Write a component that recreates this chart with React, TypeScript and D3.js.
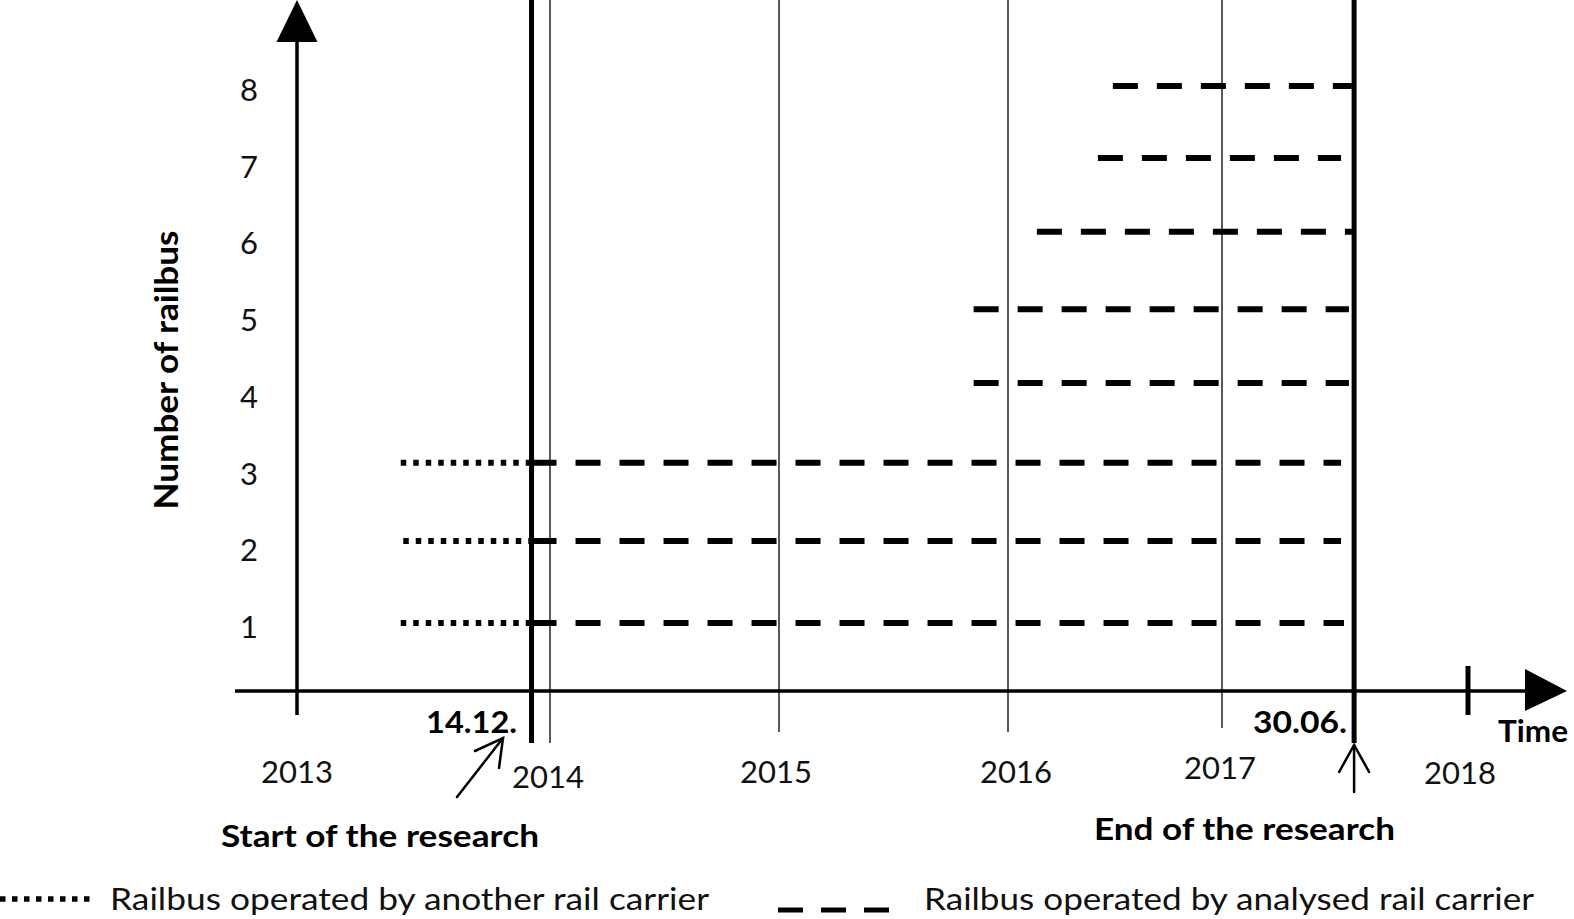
import React from "react";
import * as d3 from "d3";

// ---- data ----
const years = [2013, 2014, 2015, 2016, 2017, 2018];
const yearLabels = ["2013", "2014", "2015", "2016", "2017", "2018"];
const railbusNumbers = [1, 2, 3, 4, 5, 6, 7, 8];
// drawn level of each railbus line (in railbus units)
const railbusLevels = [1.0, 2.07, 3.09, 4.13, 5.09, 6.1, 7.06, 8.0];
// operated by another carrier (rows 1-3)
const otherStart = [2013.41, 2013.42, 2013.41];
// operated by analysed carrier
const analysedStart = [2013.927, 2013.927, 2013.927, 2015.85, 2015.85, 2016.135, 2016.42, 2016.49];
const analysedEnd = [2017.496, 2017.484, 2017.484, 2017.516, 2017.516, 2017.528, 2017.484, 2017.528];
const researchStart = 2013.927;
const researchEnd = 2017.537;
const researchStartLabel = "14.12.";
const researchEndLabel = "30.06.";

export default function App() {
  const W = 1574;
  const H = 919;
  const font = "Lato, 'Open Sans', sans-serif";

  // layout
  const yearX = [297, 550, 779, 1008, 1222, 1468];
  const x = d3.scaleLinear().domain(years).range(yearX);
  const y = d3.scaleLinear().domain([1, 8]).range([623, 86]);
  const axisY = 691;
  const yearLineBottom = [715, 743, 732, 732, 728, 715];
  const labelDx = [0, -2, -3, 8, -2, -8];
  const labelDy = [0, 5, 0, 0, -4, 1];

  const dashed = "25 19";
  const dotted = "5.5 7";

  return (
    <svg
      width={W}
      height={H}
      viewBox={`0 0 ${W} ${H}`}
      style={{ position: "absolute", left: 0, top: 0, background: "#fff" }}
    >
      <rect x={0} y={0} width={W} height={H} fill="#fff" />
      {/* thin year lines */}
      {years.slice(1, 5).map((yr, i) => (
        <line
          key={yr}
          x1={x(yr)}
          x2={x(yr)}
          y1={0}
          y2={yearLineBottom[i + 1]}
          stroke="#222"
          strokeWidth={1.5}
        />
      ))}
      {/* 2018 tick */}
      <line x1={x(2018)} x2={x(2018)} y1={666} y2={715} stroke="#000" strokeWidth={5} />

      {/* research boundaries */}
      {[researchStart, researchEnd].map((v) => (
        <line key={v} x1={x(v)} x2={x(v)} y1={0} y2={743} stroke="#000" strokeWidth={5} />
      ))}

      {/* axes */}
      <line x1={235} x2={1527} y1={axisY} y2={axisY} stroke="#000" strokeWidth={3.5} />
      <polygon points={`1525,669 1567,${axisY} 1525,711`} fill="#000" />
      <line x1={x(2013)} x2={x(2013)} y1={38} y2={715} stroke="#000" strokeWidth={3.5} />
      <polygon points={`${x(2013)},0 ${x(2013) - 20.5},42 ${x(2013) + 20.5},42`} fill="#000" />

      {/* railbus lines: other carrier */}
      {otherStart.map((s, i) => (
        <line
          key={"o" + i}
          x1={x(s)}
          x2={x(researchStart)}
          y1={y(railbusLevels[i])}
          y2={y(railbusLevels[i])}
          stroke="#000"
          strokeWidth={6}
          strokeDasharray={dotted}
        />
      ))}
      {/* railbus lines: analysed carrier */}
      {analysedStart.map((s, i) => (
        <line
          key={"a" + i}
          x1={x(s)}
          x2={x(analysedEnd[i])}
          y1={y(railbusLevels[i])}
          y2={y(railbusLevels[i])}
          stroke="#000"
          strokeWidth={6}
          strokeDasharray={dashed}
        />
      ))}

      {/* y tick labels */}
      {railbusNumbers.map((n) => (
        <text
          key={n}
          x={249}
          y={y(n) + 15}
          textAnchor="middle"
          fontFamily={font}
          fontSize={31}
          fill="#111"
        >
          {n}
        </text>
      ))}

      {/* year labels */}
      {years.map((yr, i) => (
        <text
          key={yr}
          x={x(yr) + labelDx[i]}
          y={783 + labelDy[i]}
          textAnchor="middle"
          fontFamily={font}
          fontSize={31}
          fill="#111"
        >
          {yearLabels[i]}
        </text>
      ))}

      {/* axis titles */}
      <text
        transform={`translate(178,370) rotate(-90)`}
        textAnchor="middle"
        fontFamily={font}
        fontSize={32}
        fontWeight="bold"
        fill="#000"
        textLength={279}
        lengthAdjust="spacingAndGlyphs"
      >
        Number of railbus
      </text>
      <text x={1498} y={742} fontFamily={font} fontSize={30} fontWeight="bold" textLength={70} lengthAdjust="spacingAndGlyphs">
        Time
      </text>

      {/* research labels */}
      <text x={517} y={733} textAnchor="end" fontFamily={font} fontSize={30} fontWeight="bold" textLength={91} lengthAdjust="spacingAndGlyphs">
        {researchStartLabel}
      </text>
      <text x={1347} y={733} textAnchor="end" fontFamily={font} fontSize={30} fontWeight="bold" textLength={94} lengthAdjust="spacingAndGlyphs">
        {researchEndLabel}
      </text>
      <text x={221} y={847} fontFamily={font} fontSize={30} fontWeight="bold" textLength={318} lengthAdjust="spacingAndGlyphs">
        Start of the research
      </text>
      <text x={1094} y={840} fontFamily={font} fontSize={30} fontWeight="bold" textLength={301} lengthAdjust="spacingAndGlyphs">
        End of the research
      </text>

      {/* arrows */}
      <g stroke="#000" strokeWidth={2.5} fill="none" strokeLinecap="round">
        <line x1={457} y1={797} x2={503} y2={738} />
        <polyline points="475,751 503,738 499,768" />
        <line x1={x(researchEnd)} y1={792} x2={x(researchEnd)} y2={745} />
        <polyline points={`${x(researchEnd) - 15},772 ${x(researchEnd)},745 ${x(researchEnd) + 15},772`} />
      </g>

      {/* legend */}
      <line x1={0} x2={92} y1={899} y2={899} stroke="#000" strokeWidth={5.5} strokeDasharray="5.5 6.5" />
      <text x={110} y={910} fontFamily={font} fontSize={31} fill="#111" textLength={599} lengthAdjust="spacingAndGlyphs">
        Railbus operated by another rail carrier
      </text>
      <line x1={778} x2={889} y1={910} y2={910} stroke="#000" strokeWidth={5} strokeDasharray="25 18" />
      <text x={924} y={910} fontFamily={font} fontSize={31} fill="#111" textLength={610} lengthAdjust="spacingAndGlyphs">
        Railbus operated by analysed rail carrier
      </text>
    </svg>
  );
}
